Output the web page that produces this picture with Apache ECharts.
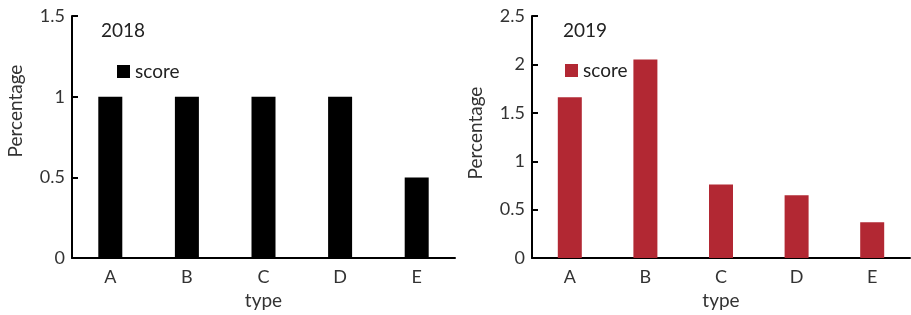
<!DOCTYPE html>
<html><head><meta charset="utf-8">
<script src="https://cdn.jsdelivr.net/npm/echarts@6/dist/echarts.min.js"></script>
<style>html,body{margin:0;padding:0;background:#fff}#c{width:911px;height:315px}</style>
</head><body><div id="c"></div>
<script>
var categories = ['A','B','C','D','E'];
var scores2018 = [1, 1, 1, 1, 0.5];
var scores2019 = [1.66, 2.05, 0.76, 0.65, 0.37];
var ticks2018 = {min: 0, max: 1.5, interval: 0.5};
var ticks2019 = {min: 0, max: 2.5, interval: 0.5};
var FONT = 'Lato';
var chart = echarts.init(document.getElementById('c'));
function xAx(gi){
  return {type:'category', gridIndex:gi, data:categories, name:'type', nameLocation:'middle', nameGap:30,
    nameTextStyle:{fontFamily:FONT,fontSize:19,color:'#333'},
    axisLine:{lineStyle:{color:'#000',width:2}},
    axisTick:{inside:true,length:6,lineStyle:{color:'#000',width:2}},
    axisLabel:{fontFamily:FONT,fontSize:18,color:'#333',margin:10}};
}
function yAx(gi,t,pad){
  return {type:'value', gridIndex:gi, min:t.min, max:t.max, interval:t.interval, name:'Percentage', nameLocation:'middle', nameGap:47,
    nameTextStyle:{fontFamily:FONT,fontSize:19,color:'#333',padding:pad},
    axisLine:{show:true,lineStyle:{color:'#000',width:2}},
    axisTick:{show:true,inside:true,length:6,lineStyle:{color:'#000',width:2}},
    splitLine:{show:false},
    axisLabel:{fontFamily:FONT,fontSize:18,color:'#333',margin:7}};
}
chart.setOption({
  animation:false,
  title:[
    {text:'2018', left:101, top:21, padding:0, textStyle:{fontFamily:FONT,fontSize:19,fontWeight:'normal',color:'#222'}},
    {text:'2019', left:563, top:21, padding:0, textStyle:{fontFamily:FONT,fontSize:19,fontWeight:'normal',color:'#222'}}
  ],
  legend:[
    {left:117, top:62, padding:0, itemWidth:13, itemHeight:13, itemGap:5, icon:'rect', data:['score'], textStyle:{fontFamily:FONT,fontSize:19,color:'#222'}},
    {left:565, top:61, padding:0, itemWidth:13, itemHeight:13, itemGap:5, icon:'rect', data:['score2'], formatter:function(){return 'score';}, textStyle:{fontFamily:FONT,fontSize:19,color:'#222'}}
  ],
  grid:[
    {left:72, top:16, width:383, height:247},
    {left:532, top:16, width:378, height:247}
  ],
  xAxis:[xAx(0), xAx(1)],
  yAxis:[yAx(0,ticks2018,[0,0,0,52]), yAx(1,ticks2019,[0,0,0,8])],
  series:[
    {name:'score', type:'bar', xAxisIndex:0, yAxisIndex:0, data:scores2018, barWidth:24, itemStyle:{color:'#000'}},
    {name:'score2', type:'bar', xAxisIndex:1, yAxisIndex:1, data:scores2019, barWidth:24, itemStyle:{color:'#B22833'}}
  ]
});
</script></body></html>
